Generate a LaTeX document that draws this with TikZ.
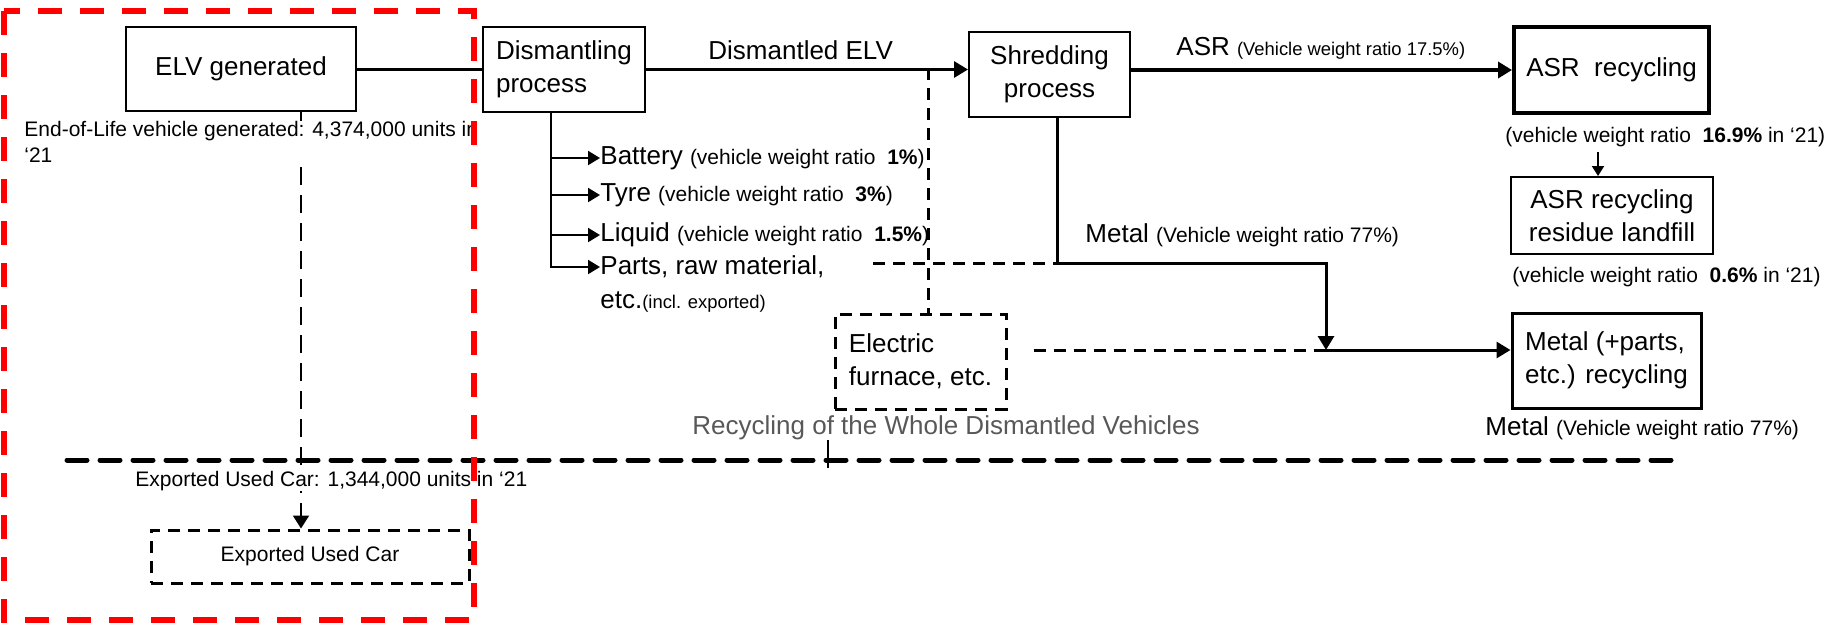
\documentclass[tikz,border=0pt]{standalone}
\usepackage{fontspec}
\setmainfont{Liberation Sans}
\usetikzlibrary{arrows.meta}
\definecolor{notegray}{RGB}{88,88,88}
\newcommand{\boxfont}{\fontsize{13}{16.5}\selectfont}
\newcommand{\notefont}{\fontsize{10.5}{13}\selectfont}
\newcommand{\tinyfont}{\fontsize{9.2}{11}\selectfont}

\begin{document}
\begin{tikzpicture}
  [x=0.5pt,y=-0.5pt,font=\boxfont,
   box/.style={draw,line width=1pt,inner sep=0pt},
   thickbox/.style={draw,line width=2pt,inner sep=0pt},
   dashbox/.style={draw,line width=1.5pt,dash pattern=on 6pt off 4pt,inner sep=0pt},
   lbl/.style={anchor=west,inner sep=0pt},
   flow/.style={line width=1.5pt,-{Triangle[length=7pt,width=8pt]}},
   branch/.style={line width=1pt,-{Triangle[length=6pt,width=7pt]}},
   dashflow/.style={line width=1.5pt,dash pattern=on 6pt off 4pt},
   elvdash/.style={line width=1pt,dash pattern=on 9pt off 5pt},
   divider/.style={line width=2.5pt,line cap=round,dash pattern=on 10pt off 6.5pt},
   redframe/.style={draw=red,line width=3pt,dash pattern=on 12pt off 9pt}]
  \useasboundingbox (0,0) rectangle (1845,623);

  % process boxes
  \node[box,minimum width=115pt,minimum height=42pt] (elv) at (241,69) {ELV generated};
  \node[box,minimum width=81pt,minimum height=42.5pt,align=left] (dism) at (564,69.5) {Dismantling\\process};
  \node[box,minimum width=80.5pt,minimum height=42.5pt,align=center] (shred) at (1049.5,74.5) {Shredding\\process};
  \node[thickbox,minimum width=97.5pt,minimum height=43pt] (asr) at (1611.5,70) {ASR\ \ recycling};
  \node[box,minimum width=101pt,minimum height=38.5pt,align=center] (landfill) at (1612,215.5) {ASR recycling\\residue landfill};
  \node[box,line width=1.5pt,minimum width=94.5pt,minimum height=47.5pt,align=left] (metal) at (1606.5,360.5) {Metal (+parts,\\etc.) recycling};
  \node[dashbox,minimum width=85.5pt,minimum height=47.5pt,align=left] (furnace) at (920.5,361.5) {Electric\\furnace, etc.};
  \node[dashbox,minimum width=159pt,minimum height=26.5pt,font=\notefont] (exported) at (310,556.5) {Exported Used Car};

  \coordinate (elvdrop) at (301,111);
  \coordinate (dtrunk) at (551,112);
  \coordinate (djoin) at (928,68);
  \coordinate (pdash) at (873,263);
  \coordinate (sdrop) at (1057,117);
  \coordinate (mbend) at (1326,263);
  \coordinate (mjoin) at (1326,350);
  \coordinate (asrdrop) at (1598,152);
  \coordinate (ticktop) at (828,440);
  \coordinate (tickbot) at (828,468);
  \coordinate (divleft) at (67,460);
  \coordinate (divright) at (1671,460);

  % exported used cars
  \draw[elvdash,-{Triangle[length=6.5pt,width=8pt]}] (elvdrop) -- (elvdrop |- exported.north);

  % labels
  \node[lbl,font=\notefont,align=left,fill=white] (eolnote) at (24,142) {End-of-Life vehicle generated: 4,374,000 units in\\‘21};
  \node[lbl,font=\notefont,fill=white] (expnote) at (135,481) {Exported Used Car: 1,344,000 units in ‘21};
  \node[lbl] (dismlbl) at (708,50) {Dismantled ELV};
  \node[lbl] (battery) at (600,158) {Battery {\notefont(vehicle weight ratio\ \ \textbf{1\%})}};
  \node[lbl] (tyre) at (600,195) {Tyre {\notefont(vehicle weight ratio\ \ \textbf{3\%})}};
  \node[lbl] (liquid) at (600,235) {Liquid {\notefont(vehicle weight ratio\ \ \textbf{1.5\%})}};
  \node[lbl] (parts) at (600,267) {Parts, raw material,};
  \node[lbl] (partsetc) at (600,302) {etc.{\tinyfont(incl. exported)}};
  \node[lbl] (asrlbl) at (1176,48) {ASR {\tinyfont(Vehicle weight ratio 17.5\%)}};
  \node[lbl,font=\notefont] (asrnote) at (1505,137) {(vehicle weight ratio\ \ \textbf{16.9\%} in ‘21)};
  \node[lbl,font=\notefont] (landnote) at (1512,277) {(vehicle weight ratio\ \ \textbf{0.6\%} in ‘21)};
  \node[lbl] (metallbl) at (1085,235) {Metal {\notefont(Vehicle weight ratio 77\%)}};
  \node[lbl] (metalnote) at (1485,428) {Metal {\notefont(Vehicle weight ratio 77\%)}};
  \node[lbl,text=notegray] (wholelbl) at (692,428) {Recycling of the Whole Dismantled Vehicles};

  % main flow
  \draw[line width=1.5pt] (elv.east) -- (elv.east -| dism.west);
  \draw[flow] (dism.east) -- (dism.east -| shred.west);
  \draw[flow,line width=2pt] (asr.west -| shred.east) -- (asr.west);
  \draw[line width=1pt,-{Triangle[length=5pt,width=6pt]}] (asrdrop) -- (asrdrop |- landfill.north);
  \draw[flow] (sdrop) |- (mbend) -- (mjoin);
  \draw[flow] (mjoin) -- (mjoin -| metal.west);

  % dismantling outputs
  \draw[branch] (dtrunk) |- (battery.west);
  \draw[branch] (dtrunk) |- (tyre.west);
  \draw[branch] (dtrunk) |- (liquid.west);
  \draw[branch] (dtrunk) |- (parts.west);

  % whole vehicle route
  \draw[dashflow] (djoin) -- (djoin |- furnace.north);
  \draw[dashflow] (pdash) -- (pdash -| sdrop);
  \draw[dashflow,shorten <=13pt] (furnace.east |- mjoin) -- (mjoin);

  \draw[divider] (divleft) -- (divright);
  \draw[line width=1.2pt] (ticktop) -- (tickbot);

  \draw[redframe] (4,11) rectangle (474,620);
\end{tikzpicture}
\end{document}
